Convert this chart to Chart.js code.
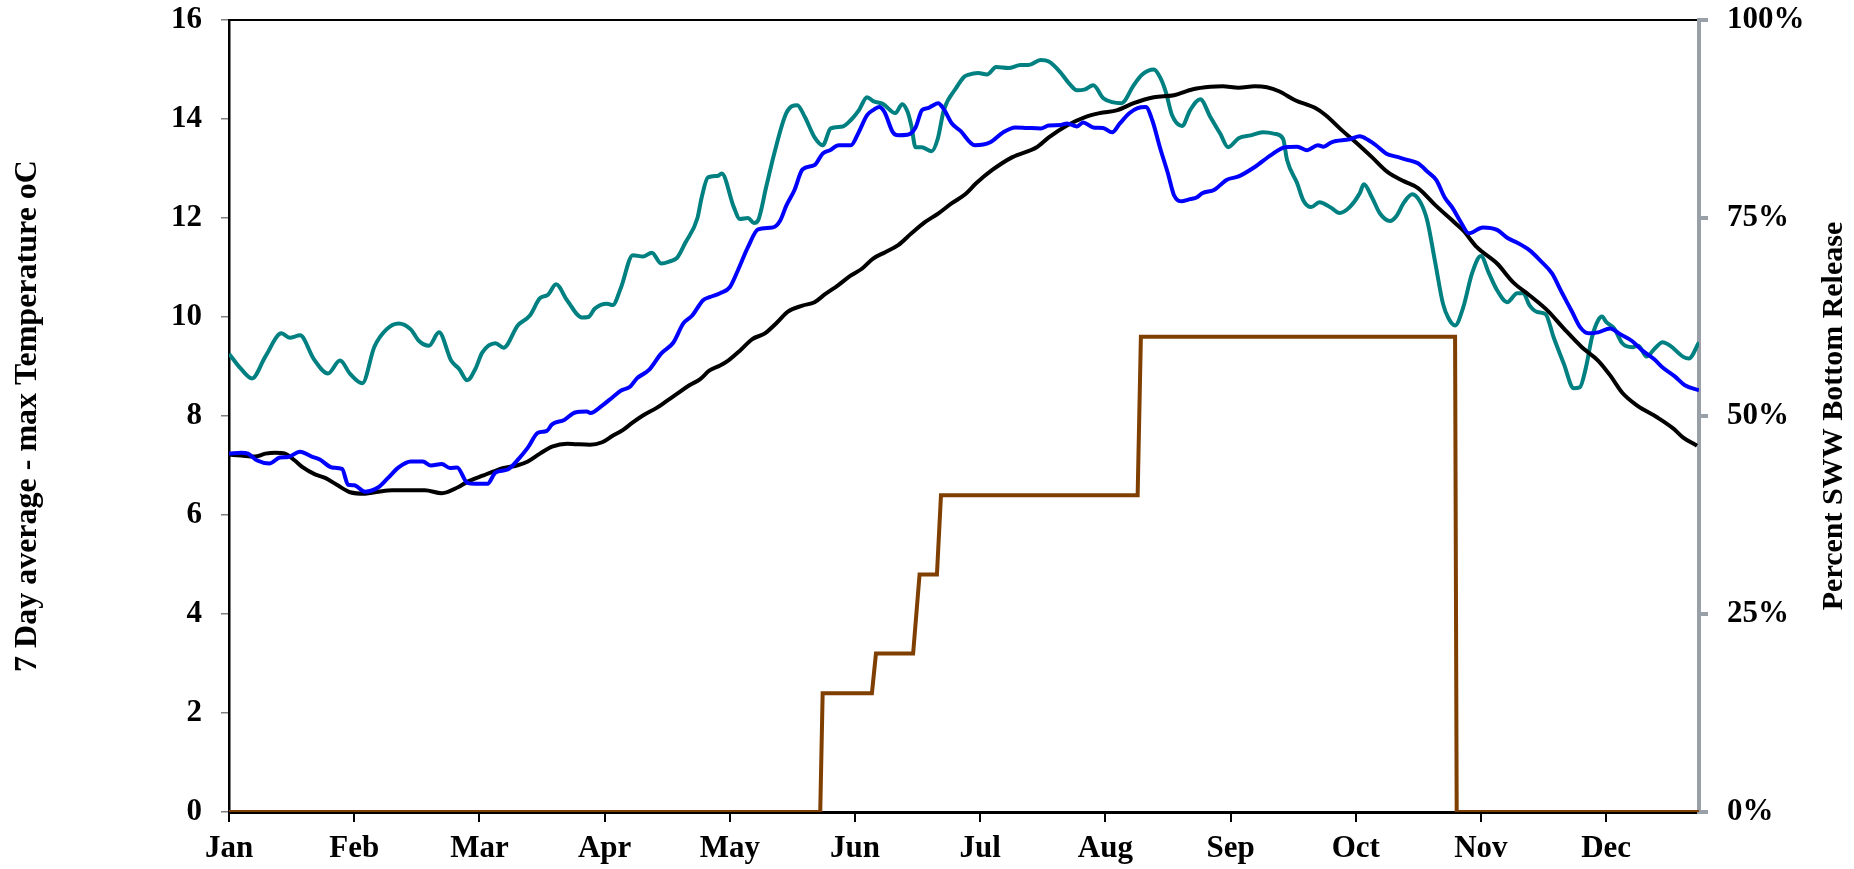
<!DOCTYPE html>
<html>
<head>
<meta charset="utf-8">
<script src="https://cdn.jsdelivr.net/npm/chart.js@4"></script>
<style>
  html, body { margin: 0; padding: 0; background: #fff; }
</style>
</head>
<body>
<canvas id="tempChart" width="1854" height="869"></canvas>
<script>
  // x = day of year (0..364), month ticks every 31 days like the original sheet
  var months = ['Jan', 'Feb', 'Mar', 'Apr', 'May', 'Jun', 'Jul', 'Aug', 'Sep', 'Oct', 'Nov', 'Dec'];
  var monthStep = 31;

  var tealDays = [0, 3, 5.7, 9, 13, 15, 17.6, 21, 24.5, 27.5, 30, 33, 36, 39, 42, 45, 47, 49.5, 52, 55, 57, 59, 61, 62.7, 66, 68, 71.5, 74.5, 77, 79, 81, 83.7, 87.4, 89, 90.6, 93.6, 95, 97, 100, 102.5, 104.7, 107, 109, 111, 113, 116, 117, 118.6, 121, 122, 125, 126.5, 128.5, 130, 131, 133, 135, 138, 140.7, 142.6, 145, 147, 149, 152, 154, 156, 158, 159.5, 162, 165, 166.7, 168, 169, 170, 171.5, 174, 175.5, 177, 180, 182, 183, 185.5, 187.7, 190, 193, 196, 198, 201, 203, 206, 208, 210, 212, 214, 216.5, 218.7, 221, 224, 226, 229, 230.5, 232, 233.5, 236, 238, 240.5, 243, 245.4, 247.4, 250, 253, 256, 259, 261, 262, 264.5, 266, 268, 270, 273, 275, 277.5, 280, 281, 283, 285, 287.5, 289, 291, 293, 295, 296.7, 298.6, 300.6, 302, 303.6, 305.6, 307.8, 310, 312, 314, 316.5, 319, 320.5, 322, 324, 326, 328, 330.5, 333, 334.5, 336, 337.5, 339, 340, 341, 343, 345, 347.5, 349, 351, 353, 355, 357, 360, 361.5, 364];
  var tealTemp = [9.26, 8.95, 8.76, 9.2, 9.67, 9.58, 9.63, 9.15, 8.86, 9.12, 8.85, 8.66, 9.4, 9.75, 9.87, 9.75, 9.52, 9.42, 9.69, 9.12, 8.95, 8.72, 8.95, 9.28, 9.47, 9.38, 9.83, 10.03, 10.38, 10.45, 10.66, 10.34, 9.99, 10.0, 10.17, 10.27, 10.24, 10.58, 11.25, 11.22, 11.3, 11.08, 11.12, 11.2, 11.5, 12.0, 12.4, 12.82, 12.85, 12.9, 12.22, 11.98, 12.0, 11.9, 11.95, 12.62, 13.3, 14.12, 14.28, 14.04, 13.63, 13.47, 13.81, 13.85, 13.98, 14.18, 14.44, 14.36, 14.3, 14.12, 14.3, 14.15, 13.85, 13.43, 13.43, 13.35, 13.6, 14.18, 14.62, 14.85, 14.89, 14.93, 14.9, 15.05, 15.03, 15.09, 15.09, 15.19, 15.16, 14.93, 14.72, 14.58, 14.6, 14.68, 14.42, 14.34, 14.32, 14.68, 14.89, 15.0, 14.85, 14.54, 14.08, 13.86, 14.18, 14.4, 14.04, 13.71, 13.43, 13.61, 13.67, 13.73, 13.7, 13.6, 13.17, 12.7, 12.36, 12.22, 12.32, 12.2, 12.1, 12.22, 12.5, 12.68, 12.42, 12.09, 11.94, 12.03, 12.32, 12.48, 12.32, 11.95, 11.14, 10.27, 9.97, 9.83, 10.19, 10.88, 11.23, 10.88, 10.54, 10.3, 10.48, 10.48, 10.24, 10.1, 10.06, 9.59, 9.06, 8.56, 8.58, 8.98, 9.59, 9.93, 10.01, 9.9, 9.77, 9.47, 9.39, 9.42, 9.2, 9.36, 9.49, 9.41, 9.2, 9.16, 9.49];

  var blueDays = [0, 3, 4.7, 7, 10, 12.6, 14.6, 17.6, 20.5, 22.5, 25.5, 28, 29.5, 31, 33.7, 37, 39.4, 42, 45, 48, 50, 52.7, 54.7, 56.5, 59, 61, 64, 66, 69, 72, 74, 76.5, 78.7, 80, 83, 85.7, 88.6, 89.5, 92.4, 95, 97, 99.3, 101, 104, 107, 110, 112.5, 114.7, 117.4, 119, 121.6, 124, 126, 128.5, 131, 134.7, 136.5, 138, 140, 142, 145, 147, 148.8, 151, 154, 155.8, 158, 159.5, 161, 162.3, 164.4, 165.7, 168, 170, 171.6, 173, 174, 175.6, 177, 179, 181, 184.7, 188.5, 191.7, 194.7, 197.6, 201, 203, 206, 207.5, 210, 211.5, 214, 216.4, 218.7, 220.6, 223, 225, 227, 228.6, 230.5, 232.5, 234, 236, 238, 239.7, 241, 244, 247, 250, 254, 258, 261.5, 264.5, 267, 269.6, 271, 273, 277.5, 280, 282, 284, 286.6, 289, 292, 294.5, 296.7, 299, 301, 303, 305, 307, 310.5, 314, 316.7, 319, 322, 324.7, 327.6, 330, 332.6, 334.6, 336.6, 339, 342, 344.5, 347.5, 350, 353, 355, 358, 360.5, 364];
  var blueTemp = [7.24, 7.26, 7.24, 7.1, 7.04, 7.16, 7.17, 7.28, 7.18, 7.12, 6.96, 6.93, 6.61, 6.6, 6.47, 6.56, 6.75, 6.96, 7.08, 7.08, 7.0, 7.03, 6.95, 6.96, 6.65, 6.63, 6.63, 6.86, 6.92, 7.16, 7.36, 7.66, 7.7, 7.83, 7.92, 8.07, 8.09, 8.06, 8.21, 8.38, 8.51, 8.59, 8.76, 8.93, 9.26, 9.48, 9.87, 10.03, 10.34, 10.4, 10.48, 10.6, 10.94, 11.41, 11.77, 11.81, 11.95, 12.25, 12.56, 12.98, 13.07, 13.3, 13.37, 13.47, 13.47, 13.71, 14.08, 14.18, 14.24, 14.14, 13.73, 13.67, 13.68, 13.83, 14.18, 14.22, 14.26, 14.32, 14.2, 13.91, 13.77, 13.47, 13.53, 13.73, 13.83, 13.82, 13.81, 13.87, 13.88, 13.91, 13.85, 13.93, 13.83, 13.82, 13.73, 13.91, 14.12, 14.22, 14.24, 13.98, 13.43, 12.9, 12.46, 12.34, 12.38, 12.42, 12.5, 12.57, 12.77, 12.84, 13.03, 13.27, 13.43, 13.44, 13.37, 13.47, 13.44, 13.53, 13.59, 13.65, 13.58, 13.47, 13.3, 13.24, 13.17, 13.1, 12.94, 12.76, 12.42, 12.2, 11.92, 11.69, 11.81, 11.76, 11.59, 11.5, 11.35, 11.14, 10.88, 10.5, 10.1, 9.79, 9.67, 9.69, 9.77, 9.65, 9.51, 9.32, 9.14, 8.98, 8.8, 8.62, 8.52];

  var blackDays = [0, 3, 6.4, 9, 11.4, 13.9, 16.3, 18.3, 21.3, 23.8, 26.7, 30, 33.7, 37, 40.4, 44.4, 48.5, 52.7, 56.7, 59, 63, 65.5, 68, 71.3, 74, 77, 80, 83.7, 86, 89.4, 92.4, 95, 97.6, 100, 102.5, 106, 108.5, 111, 114, 116.6, 119, 121.6, 123.6, 126.5, 129.5, 132.7, 135.7, 138.4, 142, 145, 147.6, 150.8, 154, 156.8, 159.5, 162.5, 165.7, 169, 172.4, 175.6, 179, 182.3, 185, 189, 194, 200, 203, 207.5, 212, 215.7, 220, 224, 229, 234, 238.7, 243, 246, 250, 254, 257, 260, 264, 269, 271.5, 275.6, 279, 283, 287, 291, 294.5, 298.7, 303.6, 305.6, 309, 314, 318, 322, 326.5, 330.5, 335, 339, 342, 345, 348.7, 353.7, 357.6, 360, 363.5];
  var blackTemp = [7.22, 7.2, 7.18, 7.24, 7.26, 7.24, 7.1, 6.96, 6.82, 6.75, 6.61, 6.46, 6.43, 6.47, 6.5, 6.5, 6.5, 6.44, 6.56, 6.67, 6.8, 6.88, 6.95, 7.0, 7.08, 7.24, 7.38, 7.44, 7.43, 7.42, 7.47, 7.6, 7.72, 7.87, 8.01, 8.17, 8.31, 8.45, 8.62, 8.74, 8.92, 9.02, 9.12, 9.32, 9.55, 9.67, 9.89, 10.11, 10.23, 10.3, 10.46, 10.64, 10.84, 10.98, 11.18, 11.31, 11.45, 11.69, 11.92, 12.09, 12.3, 12.48, 12.7, 12.97, 13.23, 13.43, 13.63, 13.87, 14.04, 14.12, 14.18, 14.32, 14.44, 14.48, 14.6, 14.65, 14.66, 14.63, 14.66, 14.64, 14.56, 14.38, 14.22, 14.08, 13.77, 13.53, 13.23, 12.92, 12.74, 12.6, 12.26, 11.9, 11.75, 11.41, 11.08, 10.7, 10.44, 10.13, 9.77, 9.39, 9.12, 8.82, 8.47, 8.21, 7.97, 7.75, 7.57, 7.4];

  // percent of release from the bottom outlet (right axis)
  var releaseDays = [0, 146.4, 147, 159.2, 160.2, 169.4, 171, 175.3, 176.3, 225, 225.8, 303.6, 304, 364];
  var releasePct = [0, 0, 15, 15, 20, 20, 30, 30, 40, 40, 60, 60, 0, 0];

  var rightTitle = 'Percent SWW Bottom Release';

  function toPoints(days, vals) {
    return days.map(function (d, i) { return { x: d, y: vals[i] }; });
  }

  var fontFamily = "'Liberation Serif', 'Times New Roman', serif";
  Chart.defaults.font.family = fontFamily;
  Chart.defaults.font.weight = 'bold';
  Chart.defaults.font.size = 31;
  Chart.defaults.color = '#000';

  // chart.js turns a right-hand title clockwise; the original reads bottom to top
  var rightTitlePlugin = {
    id: 'rightTitle',
    afterDraw: function (chart) {
      var s = chart.scales.y2;
      var c = chart.ctx;
      c.save();
      c.translate(s.right - 20, (chart.chartArea.top + chart.chartArea.bottom) / 2);
      c.rotate(-Math.PI / 2);
      c.font = 'bold 30px ' + fontFamily;
      c.fillStyle = '#000';
      c.textAlign = 'center';
      c.textBaseline = 'middle';
      c.fillText(rightTitle, 0, 0);
      c.restore();
    }
  };

  // keep the tick padding from pushing the plot top down
  function fixWidth(w) {
    return function (s) {
      s.width = w;
      s.paddingTop = 0;
      s.paddingBottom = 0;
    };
  }

  var ctx = document.getElementById('tempChart').getContext('2d');
  var tempChart = new Chart(ctx, {
    type: 'line',
    data: {
      datasets: [
        {
          label: 'Release',
          data: toPoints(releaseDays, releasePct),
          yAxisID: 'y2',
          borderColor: '#7f3f00',
          borderWidth: 4,
          tension: 0,
          order: 0
        },
        {
          label: 'Blue',
          data: toPoints(blueDays, blueTemp),
          borderColor: '#0000ff',
          borderWidth: 4,
          cubicInterpolationMode: 'monotone',
          order: 1
        },
        {
          label: 'Black',
          data: toPoints(blackDays, blackTemp),
          borderColor: '#000000',
          borderWidth: 4,
          cubicInterpolationMode: 'monotone',
          order: 2
        },
        {
          label: 'Teal',
          data: toPoints(tealDays, tealTemp),
          borderColor: '#008080',
          borderWidth: 4,
          cubicInterpolationMode: 'monotone',
          order: 3
        }
      ]
    },
    options: {
      responsive: false,
      animation: false,
      layout: { padding: { top: 20, left: 0, right: 0, bottom: 0 } },
      plugins: { legend: { display: false }, tooltip: { enabled: false } },
      elements: { point: { radius: 0 } },
      scales: {
        x: {
          type: 'linear',
          min: 0,
          max: 364,
          afterBuildTicks: function (s) {
            s.ticks = months.map(function (m, i) { return { value: i * monthStep }; });
          },
          ticks: {
            autoSkip: false,
            maxRotation: 0,
            padding: 8,
            callback: function (v) { return months[Math.round(v / monthStep)]; }
          },
          grid: { drawOnChartArea: false, tickLength: 10, color: '#000', lineWidth: 2 },
          border: { color: '#000', width: 3 },
          afterFit: function (s) { s.height = 57; }
        },
        xTop: {
          type: 'linear',
          position: 'top',
          min: 0,
          max: 364,
          ticks: { display: false },
          grid: { display: false, drawTicks: false },
          border: { color: '#000', width: 2 },
          afterFit: function (s) { s.height = 0; }
        },
        y: {
          position: 'left',
          min: 0,
          max: 16,
          ticks: { stepSize: 2, padding: 19 },
          grid: { drawOnChartArea: false, tickLength: 8, color: '#808080', lineWidth: 1.5 },
          border: { color: '#000', width: 2.5 },
          title: {
            display: true,
            text: '7 Day average - max Temperature oC',
            font: { size: 32 },
            padding: { top: 9, bottom: 0 }
          },
          afterFit: fixWidth(229)
        },
        y2: {
          position: 'right',
          min: 0,
          max: 100,
          ticks: {
            stepSize: 25,
            padding: 19,
            callback: function (v) { return v + '%'; }
          },
          grid: { drawOnChartArea: false, tickLength: 9, color: '#99a0a8', lineWidth: 4 },
          border: { color: '#99a0a8', width: 4 },
          title: { display: false },
          afterFit: fixWidth(155)
        }
      }
    },
    plugins: [rightTitlePlugin]
  });
</script>
</body>
</html>
